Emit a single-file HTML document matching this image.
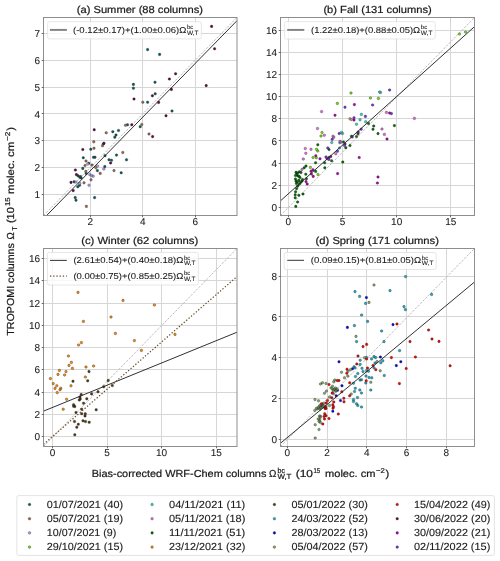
<!DOCTYPE html><html><head><meta charset="utf-8"><style>html,body{margin:0;padding:0;background:#fff;overflow:hidden;}svg{display:block;}text{text-rendering:geometricPrecision;font-family:"Liberation Sans", sans-serif;fill:#1a1a1a;stroke:#1a1a1a;stroke-width:0.22px;}text.th{stroke-width:0.08px;}text.t2{stroke-width:0.12px;}svg{will-change:transform;}</style></head><body>
<svg width="500" height="561" viewBox="0 0 500 561">
<clipPath id="clipa"><rect x="43.5" y="17.5" width="193.5" height="198.0"/></clipPath>
<path d="M90.50 17.5V215.5M142.50 17.5V215.5M195.50 17.5V215.5M43.5 194.50H237.0M43.5 167.50H237.0M43.5 140.50H237.0M43.5 113.50H237.0M43.5 87.50H237.0M43.5 60.50H237.0M43.5 33.50H237.0" stroke="#d6d6d6" stroke-width="1.0" fill="none"/>
<line x1="43.5" y1="215.5" x2="237.0" y2="17.5" stroke="#b2b2b2" stroke-width="0.9" stroke-dasharray="2.3 1.4" clip-path="url(#clipa)"/>
<g clip-path="url(#clipa)"><path d="M146.30 49.6a1.3 1.3 0 1 0 2.6 0a1.3 1.3 0 1 0 -2.6 0M158.30 54.4a1.3 1.3 0 1 0 2.6 0a1.3 1.3 0 1 0 -2.6 0M153.70 82.2a1.3 1.3 0 1 0 2.6 0a1.3 1.3 0 1 0 -2.6 0M153.90 93.8a1.3 1.3 0 1 0 2.6 0a1.3 1.3 0 1 0 -2.6 0M146.30 102.2a1.3 1.3 0 1 0 2.6 0a1.3 1.3 0 1 0 -2.6 0M170.70 111.0a1.3 1.3 0 1 0 2.6 0a1.3 1.3 0 1 0 -2.6 0M132.10 84.4a1.3 1.3 0 1 0 2.6 0a1.3 1.3 0 1 0 -2.6 0M132.10 88.2a1.3 1.3 0 1 0 2.6 0a1.3 1.3 0 1 0 -2.6 0M126.20 124.8a1.3 1.3 0 1 0 2.6 0a1.3 1.3 0 1 0 -2.6 0M138.90 126.7a1.3 1.3 0 1 0 2.6 0a1.3 1.3 0 1 0 -2.6 0M111.50 131.7a1.3 1.3 0 1 0 2.6 0a1.3 1.3 0 1 0 -2.6 0M117.20 130.5a1.3 1.3 0 1 0 2.6 0a1.3 1.3 0 1 0 -2.6 0M114.70 135.0a1.3 1.3 0 1 0 2.6 0a1.3 1.3 0 1 0 -2.6 0M113.50 137.2a1.3 1.3 0 1 0 2.6 0a1.3 1.3 0 1 0 -2.6 0M102.00 144.0a1.3 1.3 0 1 0 2.6 0a1.3 1.3 0 1 0 -2.6 0M103.70 155.7a1.3 1.3 0 1 0 2.6 0a1.3 1.3 0 1 0 -2.6 0M115.20 155.1a1.3 1.3 0 1 0 2.6 0a1.3 1.3 0 1 0 -2.6 0M92.20 157.3a1.3 1.3 0 1 0 2.6 0a1.3 1.3 0 1 0 -2.6 0M93.70 157.3a1.3 1.3 0 1 0 2.6 0a1.3 1.3 0 1 0 -2.6 0M107.70 159.8a1.3 1.3 0 1 0 2.6 0a1.3 1.3 0 1 0 -2.6 0M110.20 160.3a1.3 1.3 0 1 0 2.6 0a1.3 1.3 0 1 0 -2.6 0M125.20 159.8a1.3 1.3 0 1 0 2.6 0a1.3 1.3 0 1 0 -2.6 0M103.50 166.6a1.3 1.3 0 1 0 2.6 0a1.3 1.3 0 1 0 -2.6 0M89.50 149.2a1.3 1.3 0 1 0 2.6 0a1.3 1.3 0 1 0 -2.6 0M82.00 157.8a1.3 1.3 0 1 0 2.6 0a1.3 1.3 0 1 0 -2.6 0M87.50 163.2a1.3 1.3 0 1 0 2.6 0a1.3 1.3 0 1 0 -2.6 0M81.50 168.4a1.3 1.3 0 1 0 2.6 0a1.3 1.3 0 1 0 -2.6 0M96.10 170.6a1.3 1.3 0 1 0 2.6 0a1.3 1.3 0 1 0 -2.6 0M84.90 173.4a1.3 1.3 0 1 0 2.6 0a1.3 1.3 0 1 0 -2.6 0M76.70 175.8a1.3 1.3 0 1 0 2.6 0a1.3 1.3 0 1 0 -2.6 0M78.50 177.2a1.3 1.3 0 1 0 2.6 0a1.3 1.3 0 1 0 -2.6 0M79.90 178.0a1.3 1.3 0 1 0 2.6 0a1.3 1.3 0 1 0 -2.6 0M72.70 181.8a1.3 1.3 0 1 0 2.6 0a1.3 1.3 0 1 0 -2.6 0M78.30 185.2a1.3 1.3 0 1 0 2.6 0a1.3 1.3 0 1 0 -2.6 0M76.50 186.8a1.3 1.3 0 1 0 2.6 0a1.3 1.3 0 1 0 -2.6 0M73.90 197.6a1.3 1.3 0 1 0 2.6 0a1.3 1.3 0 1 0 -2.6 0M74.70 200.2a1.3 1.3 0 1 0 2.6 0a1.3 1.3 0 1 0 -2.6 0M93.30 197.6a1.3 1.3 0 1 0 2.6 0a1.3 1.3 0 1 0 -2.6 0M119.90 172.8a1.3 1.3 0 1 0 2.6 0a1.3 1.3 0 1 0 -2.6 0M79.20 176.5a1.3 1.3 0 1 0 2.6 0a1.3 1.3 0 1 0 -2.6 0" fill="#0b5c5c" stroke="rgba(30,30,30,0.6)" stroke-width="0.5"/><path d="M141.50 102.2a1.3 1.3 0 1 0 2.6 0a1.3 1.3 0 1 0 -2.6 0M124.20 125.2a1.3 1.3 0 1 0 2.6 0a1.3 1.3 0 1 0 -2.6 0M140.50 124.5a1.3 1.3 0 1 0 2.6 0a1.3 1.3 0 1 0 -2.6 0M104.90 132.8a1.3 1.3 0 1 0 2.6 0a1.3 1.3 0 1 0 -2.6 0M92.50 141.8a1.3 1.3 0 1 0 2.6 0a1.3 1.3 0 1 0 -2.6 0M101.20 145.7a1.3 1.3 0 1 0 2.6 0a1.3 1.3 0 1 0 -2.6 0M92.70 148.2a1.3 1.3 0 1 0 2.6 0a1.3 1.3 0 1 0 -2.6 0M121.50 152.5a1.3 1.3 0 1 0 2.6 0a1.3 1.3 0 1 0 -2.6 0M84.70 161.0a1.3 1.3 0 1 0 2.6 0a1.3 1.3 0 1 0 -2.6 0M83.70 165.5a1.3 1.3 0 1 0 2.6 0a1.3 1.3 0 1 0 -2.6 0M90.70 165.0a1.3 1.3 0 1 0 2.6 0a1.3 1.3 0 1 0 -2.6 0M94.50 167.6a1.3 1.3 0 1 0 2.6 0a1.3 1.3 0 1 0 -2.6 0M98.90 173.4a1.3 1.3 0 1 0 2.6 0a1.3 1.3 0 1 0 -2.6 0M84.50 171.4a1.3 1.3 0 1 0 2.6 0a1.3 1.3 0 1 0 -2.6 0M89.70 179.8a1.3 1.3 0 1 0 2.6 0a1.3 1.3 0 1 0 -2.6 0M82.70 182.8a1.3 1.3 0 1 0 2.6 0a1.3 1.3 0 1 0 -2.6 0M85.10 206.4a1.3 1.3 0 1 0 2.6 0a1.3 1.3 0 1 0 -2.6 0M112.70 170.6a1.3 1.3 0 1 0 2.6 0a1.3 1.3 0 1 0 -2.6 0M147.70 134.0a1.3 1.3 0 1 0 2.6 0a1.3 1.3 0 1 0 -2.6 0" fill="#a06850" stroke="rgba(30,30,30,0.6)" stroke-width="0.5"/><path d="M96.20 166.0a1.3 1.3 0 1 0 2.6 0a1.3 1.3 0 1 0 -2.6 0M86.50 164.0a1.3 1.3 0 1 0 2.6 0a1.3 1.3 0 1 0 -2.6 0M88.50 174.6a1.3 1.3 0 1 0 2.6 0a1.3 1.3 0 1 0 -2.6 0M91.90 176.2a1.3 1.3 0 1 0 2.6 0a1.3 1.3 0 1 0 -2.6 0M74.70 182.0a1.3 1.3 0 1 0 2.6 0a1.3 1.3 0 1 0 -2.6 0M78.50 183.4a1.3 1.3 0 1 0 2.6 0a1.3 1.3 0 1 0 -2.6 0M87.70 185.2a1.3 1.3 0 1 0 2.6 0a1.3 1.3 0 1 0 -2.6 0M102.50 169.0a1.3 1.3 0 1 0 2.6 0a1.3 1.3 0 1 0 -2.6 0M90.20 175.5a1.3 1.3 0 1 0 2.6 0a1.3 1.3 0 1 0 -2.6 0" fill="#a79ff2" stroke="rgba(30,30,30,0.6)" stroke-width="0.5"/><path d="M210.30 26.4a1.3 1.3 0 1 0 2.6 0a1.3 1.3 0 1 0 -2.6 0M213.30 48.8a1.3 1.3 0 1 0 2.6 0a1.3 1.3 0 1 0 -2.6 0M174.30 73.8a1.3 1.3 0 1 0 2.6 0a1.3 1.3 0 1 0 -2.6 0M168.10 79.0a1.3 1.3 0 1 0 2.6 0a1.3 1.3 0 1 0 -2.6 0M204.90 85.6a1.3 1.3 0 1 0 2.6 0a1.3 1.3 0 1 0 -2.6 0M170.10 89.4a1.3 1.3 0 1 0 2.6 0a1.3 1.3 0 1 0 -2.6 0M151.10 95.8a1.3 1.3 0 1 0 2.6 0a1.3 1.3 0 1 0 -2.6 0M157.30 102.4a1.3 1.3 0 1 0 2.6 0a1.3 1.3 0 1 0 -2.6 0M164.70 115.8a1.3 1.3 0 1 0 2.6 0a1.3 1.3 0 1 0 -2.6 0M132.70 99.0a1.3 1.3 0 1 0 2.6 0a1.3 1.3 0 1 0 -2.6 0M130.50 124.7a1.3 1.3 0 1 0 2.6 0a1.3 1.3 0 1 0 -2.6 0M92.90 129.7a1.3 1.3 0 1 0 2.6 0a1.3 1.3 0 1 0 -2.6 0M102.70 143.2a1.3 1.3 0 1 0 2.6 0a1.3 1.3 0 1 0 -2.6 0M109.30 163.0a1.3 1.3 0 1 0 2.6 0a1.3 1.3 0 1 0 -2.6 0M81.50 149.5a1.3 1.3 0 1 0 2.6 0a1.3 1.3 0 1 0 -2.6 0M74.10 170.0a1.3 1.3 0 1 0 2.6 0a1.3 1.3 0 1 0 -2.6 0M75.10 174.6a1.3 1.3 0 1 0 2.6 0a1.3 1.3 0 1 0 -2.6 0M69.70 182.4a1.3 1.3 0 1 0 2.6 0a1.3 1.3 0 1 0 -2.6 0M71.90 190.6a1.3 1.3 0 1 0 2.6 0a1.3 1.3 0 1 0 -2.6 0M151.30 136.6a1.3 1.3 0 1 0 2.6 0a1.3 1.3 0 1 0 -2.6 0" fill="#5e0840" stroke="rgba(30,30,30,0.6)" stroke-width="0.5"/></g>
<line x1="46.60" y1="215.50" x2="237.00" y2="20.68" stroke="#262626" stroke-width="0.95"/>
<rect x="43.5" y="17.5" width="193.5" height="198.0" fill="none" stroke="#8e8e8e" stroke-width="1.0"/>
<path d="M90.50 215.5v1.8M142.50 215.5v1.8M195.50 215.5v1.8M43.5 194.50h-1.8M43.5 167.50h-1.8M43.5 140.50h-1.8M43.5 113.50h-1.8M43.5 87.50h-1.8M43.5 60.50h-1.8M43.5 33.50h-1.8" stroke="#444" stroke-width="0.8" fill="none"/>
<text x="90.30" y="225.30" font-size="10.0" class="th" text-anchor="middle">2</text>
<text x="142.75" y="225.30" font-size="10.0" class="th" text-anchor="middle">4</text>
<text x="195.20" y="225.30" font-size="10.0" class="th" text-anchor="middle">6</text>
<text x="40.10" y="198.00" font-size="10.0" class="th" text-anchor="end">1</text>
<text x="40.10" y="171.17" font-size="10.0" class="th" text-anchor="end">2</text>
<text x="40.10" y="144.33" font-size="10.0" class="th" text-anchor="end">3</text>
<text x="40.10" y="117.50" font-size="10.0" class="th" text-anchor="end">4</text>
<text x="40.10" y="90.67" font-size="10.0" class="th" text-anchor="end">5</text>
<text x="40.10" y="63.83" font-size="10.0" class="th" text-anchor="end">6</text>
<text x="40.10" y="37.00" font-size="10.0" class="th" text-anchor="end">7</text>
<text x="76.8" y="13.00" font-size="10.2" textLength="126.2" lengthAdjust="spacingAndGlyphs">(a) Summer (88 columns)</text>
<clipPath id="clipb"><rect x="280.5" y="17.5" width="194.0" height="198.0"/></clipPath>
<path d="M288.50 17.5V215.5M342.50 17.5V215.5M396.50 17.5V215.5M450.50 17.5V215.5M280.5 207.50H474.5M280.5 185.50H474.5M280.5 163.50H474.5M280.5 140.50H474.5M280.5 118.50H474.5M280.5 96.50H474.5M280.5 74.50H474.5M280.5 52.50H474.5M280.5 30.50H474.5" stroke="#d6d6d6" stroke-width="1.0" fill="none"/>
<line x1="280.5" y1="215.5" x2="474.5" y2="17.5" stroke="#b2b2b2" stroke-width="0.9" stroke-dasharray="2.3 1.4" clip-path="url(#clipb)"/>
<g clip-path="url(#clipb)"><path d="M458.10 34.0a1.3 1.3 0 1 0 2.6 0a1.3 1.3 0 1 0 -2.6 0M464.30 32.0a1.3 1.3 0 1 0 2.6 0a1.3 1.3 0 1 0 -2.6 0M377.10 98.4a1.3 1.3 0 1 0 2.6 0a1.3 1.3 0 1 0 -2.6 0M349.70 93.0a1.3 1.3 0 1 0 2.6 0a1.3 1.3 0 1 0 -2.6 0M369.10 98.0a1.3 1.3 0 1 0 2.6 0a1.3 1.3 0 1 0 -2.6 0M336.10 103.4a1.3 1.3 0 1 0 2.6 0a1.3 1.3 0 1 0 -2.6 0M348.70 118.8a1.3 1.3 0 1 0 2.6 0a1.3 1.3 0 1 0 -2.6 0M320.70 132.5a1.3 1.3 0 1 0 2.6 0a1.3 1.3 0 1 0 -2.6 0M319.70 136.0a1.3 1.3 0 1 0 2.6 0a1.3 1.3 0 1 0 -2.6 0M315.20 149.3a1.3 1.3 0 1 0 2.6 0a1.3 1.3 0 1 0 -2.6 0M316.50 151.0a1.3 1.3 0 1 0 2.6 0a1.3 1.3 0 1 0 -2.6 0M311.70 157.5a1.3 1.3 0 1 0 2.6 0a1.3 1.3 0 1 0 -2.6 0M315.00 157.7a1.3 1.3 0 1 0 2.6 0a1.3 1.3 0 1 0 -2.6 0M309.10 167.4a1.3 1.3 0 1 0 2.6 0a1.3 1.3 0 1 0 -2.6 0M316.70 174.6a1.3 1.3 0 1 0 2.6 0a1.3 1.3 0 1 0 -2.6 0" fill="#72dd08" stroke="rgba(30,30,30,0.6)" stroke-width="0.5"/><path d="M378.30 92.0a1.3 1.3 0 1 0 2.6 0a1.3 1.3 0 1 0 -2.6 0M360.10 114.4a1.3 1.3 0 1 0 2.6 0a1.3 1.3 0 1 0 -2.6 0M358.70 119.7a1.3 1.3 0 1 0 2.6 0a1.3 1.3 0 1 0 -2.6 0M364.40 121.7a1.3 1.3 0 1 0 2.6 0a1.3 1.3 0 1 0 -2.6 0M355.20 124.2a1.3 1.3 0 1 0 2.6 0a1.3 1.3 0 1 0 -2.6 0M340.20 132.5a1.3 1.3 0 1 0 2.6 0a1.3 1.3 0 1 0 -2.6 0M330.50 142.5a1.3 1.3 0 1 0 2.6 0a1.3 1.3 0 1 0 -2.6 0M338.50 142.7a1.3 1.3 0 1 0 2.6 0a1.3 1.3 0 1 0 -2.6 0M338.20 148.0a1.3 1.3 0 1 0 2.6 0a1.3 1.3 0 1 0 -2.6 0M341.20 133.5a1.3 1.3 0 1 0 2.6 0a1.3 1.3 0 1 0 -2.6 0M379.20 92.5a1.3 1.3 0 1 0 2.6 0a1.3 1.3 0 1 0 -2.6 0" fill="#2ad6c2" stroke="rgba(30,30,30,0.6)" stroke-width="0.5"/><path d="M385.10 112.4a1.3 1.3 0 1 0 2.6 0a1.3 1.3 0 1 0 -2.6 0M320.30 111.6a1.3 1.3 0 1 0 2.6 0a1.3 1.3 0 1 0 -2.6 0M413.10 118.4a1.3 1.3 0 1 0 2.6 0a1.3 1.3 0 1 0 -2.6 0M380.70 129.0a1.3 1.3 0 1 0 2.6 0a1.3 1.3 0 1 0 -2.6 0M383.10 134.4a1.3 1.3 0 1 0 2.6 0a1.3 1.3 0 1 0 -2.6 0M350.00 119.5a1.3 1.3 0 1 0 2.6 0a1.3 1.3 0 1 0 -2.6 0M331.70 136.2a1.3 1.3 0 1 0 2.6 0a1.3 1.3 0 1 0 -2.6 0M338.70 141.3a1.3 1.3 0 1 0 2.6 0a1.3 1.3 0 1 0 -2.6 0M334.50 153.7a1.3 1.3 0 1 0 2.6 0a1.3 1.3 0 1 0 -2.6 0M316.20 128.5a1.3 1.3 0 1 0 2.6 0a1.3 1.3 0 1 0 -2.6 0M323.00 135.2a1.3 1.3 0 1 0 2.6 0a1.3 1.3 0 1 0 -2.6 0M304.00 148.5a1.3 1.3 0 1 0 2.6 0a1.3 1.3 0 1 0 -2.6 0M309.70 149.3a1.3 1.3 0 1 0 2.6 0a1.3 1.3 0 1 0 -2.6 0M304.50 153.3a1.3 1.3 0 1 0 2.6 0a1.3 1.3 0 1 0 -2.6 0M302.00 159.0a1.3 1.3 0 1 0 2.6 0a1.3 1.3 0 1 0 -2.6 0M300.70 169.4a1.3 1.3 0 1 0 2.6 0a1.3 1.3 0 1 0 -2.6 0M332.50 137.2a1.3 1.3 0 1 0 2.6 0a1.3 1.3 0 1 0 -2.6 0M339.50 142.2a1.3 1.3 0 1 0 2.6 0a1.3 1.3 0 1 0 -2.6 0" fill="#df6fd6" stroke="rgba(30,30,30,0.6)" stroke-width="0.5"/><path d="M393.10 125.6a1.3 1.3 0 1 0 2.6 0a1.3 1.3 0 1 0 -2.6 0M376.70 133.6a1.3 1.3 0 1 0 2.6 0a1.3 1.3 0 1 0 -2.6 0M367.20 123.5a1.3 1.3 0 1 0 2.6 0a1.3 1.3 0 1 0 -2.6 0M372.40 126.0a1.3 1.3 0 1 0 2.6 0a1.3 1.3 0 1 0 -2.6 0M371.70 129.2a1.3 1.3 0 1 0 2.6 0a1.3 1.3 0 1 0 -2.6 0M356.70 133.8a1.3 1.3 0 1 0 2.6 0a1.3 1.3 0 1 0 -2.6 0M350.20 136.2a1.3 1.3 0 1 0 2.6 0a1.3 1.3 0 1 0 -2.6 0M355.20 136.5a1.3 1.3 0 1 0 2.6 0a1.3 1.3 0 1 0 -2.6 0M342.20 142.0a1.3 1.3 0 1 0 2.6 0a1.3 1.3 0 1 0 -2.6 0M348.70 145.5a1.3 1.3 0 1 0 2.6 0a1.3 1.3 0 1 0 -2.6 0M344.50 147.7a1.3 1.3 0 1 0 2.6 0a1.3 1.3 0 1 0 -2.6 0M316.50 144.8a1.3 1.3 0 1 0 2.6 0a1.3 1.3 0 1 0 -2.6 0M327.70 149.5a1.3 1.3 0 1 0 2.6 0a1.3 1.3 0 1 0 -2.6 0M314.30 162.8a1.3 1.3 0 1 0 2.6 0a1.3 1.3 0 1 0 -2.6 0M323.30 162.8a1.3 1.3 0 1 0 2.6 0a1.3 1.3 0 1 0 -2.6 0M304.70 166.0a1.3 1.3 0 1 0 2.6 0a1.3 1.3 0 1 0 -2.6 0M302.90 167.8a1.3 1.3 0 1 0 2.6 0a1.3 1.3 0 1 0 -2.6 0M323.50 167.8a1.3 1.3 0 1 0 2.6 0a1.3 1.3 0 1 0 -2.6 0M298.10 171.8a1.3 1.3 0 1 0 2.6 0a1.3 1.3 0 1 0 -2.6 0M294.70 172.4a1.3 1.3 0 1 0 2.6 0a1.3 1.3 0 1 0 -2.6 0M295.70 174.2a1.3 1.3 0 1 0 2.6 0a1.3 1.3 0 1 0 -2.6 0M296.70 176.0a1.3 1.3 0 1 0 2.6 0a1.3 1.3 0 1 0 -2.6 0M297.70 176.2a1.3 1.3 0 1 0 2.6 0a1.3 1.3 0 1 0 -2.6 0M314.30 171.4a1.3 1.3 0 1 0 2.6 0a1.3 1.3 0 1 0 -2.6 0M304.50 174.2a1.3 1.3 0 1 0 2.6 0a1.3 1.3 0 1 0 -2.6 0M294.70 181.0a1.3 1.3 0 1 0 2.6 0a1.3 1.3 0 1 0 -2.6 0M297.50 180.4a1.3 1.3 0 1 0 2.6 0a1.3 1.3 0 1 0 -2.6 0M300.70 181.0a1.3 1.3 0 1 0 2.6 0a1.3 1.3 0 1 0 -2.6 0M305.10 178.8a1.3 1.3 0 1 0 2.6 0a1.3 1.3 0 1 0 -2.6 0M295.10 183.4a1.3 1.3 0 1 0 2.6 0a1.3 1.3 0 1 0 -2.6 0M299.50 182.2a1.3 1.3 0 1 0 2.6 0a1.3 1.3 0 1 0 -2.6 0M296.50 186.0a1.3 1.3 0 1 0 2.6 0a1.3 1.3 0 1 0 -2.6 0M295.30 188.6a1.3 1.3 0 1 0 2.6 0a1.3 1.3 0 1 0 -2.6 0M294.30 191.8a1.3 1.3 0 1 0 2.6 0a1.3 1.3 0 1 0 -2.6 0M293.90 194.8a1.3 1.3 0 1 0 2.6 0a1.3 1.3 0 1 0 -2.6 0M297.50 195.2a1.3 1.3 0 1 0 2.6 0a1.3 1.3 0 1 0 -2.6 0M301.70 194.0a1.3 1.3 0 1 0 2.6 0a1.3 1.3 0 1 0 -2.6 0M293.90 197.8a1.3 1.3 0 1 0 2.6 0a1.3 1.3 0 1 0 -2.6 0M296.30 202.0a1.3 1.3 0 1 0 2.6 0a1.3 1.3 0 1 0 -2.6 0M294.50 206.4a1.3 1.3 0 1 0 2.6 0a1.3 1.3 0 1 0 -2.6 0M341.50 162.0a1.3 1.3 0 1 0 2.6 0a1.3 1.3 0 1 0 -2.6 0M330.30 160.8a1.3 1.3 0 1 0 2.6 0a1.3 1.3 0 1 0 -2.6 0M327.70 157.5a1.3 1.3 0 1 0 2.6 0a1.3 1.3 0 1 0 -2.6 0M296.20 173.0a1.3 1.3 0 1 0 2.6 0a1.3 1.3 0 1 0 -2.6 0M298.70 177.5a1.3 1.3 0 1 0 2.6 0a1.3 1.3 0 1 0 -2.6 0M294.20 175.5a1.3 1.3 0 1 0 2.6 0a1.3 1.3 0 1 0 -2.6 0M299.70 172.5a1.3 1.3 0 1 0 2.6 0a1.3 1.3 0 1 0 -2.6 0M295.90 182.2a1.3 1.3 0 1 0 2.6 0a1.3 1.3 0 1 0 -2.6 0M298.20 184.0a1.3 1.3 0 1 0 2.6 0a1.3 1.3 0 1 0 -2.6 0M294.20 179.0a1.3 1.3 0 1 0 2.6 0a1.3 1.3 0 1 0 -2.6 0M301.20 179.5a1.3 1.3 0 1 0 2.6 0a1.3 1.3 0 1 0 -2.6 0" fill="#046c04" stroke="rgba(30,30,30,0.6)" stroke-width="0.5"/><path d="M388.30 113.0a1.3 1.3 0 1 0 2.6 0a1.3 1.3 0 1 0 -2.6 0M353.10 104.6a1.3 1.3 0 1 0 2.6 0a1.3 1.3 0 1 0 -2.6 0M333.70 115.2a1.3 1.3 0 1 0 2.6 0a1.3 1.3 0 1 0 -2.6 0M352.70 120.0a1.3 1.3 0 1 0 2.6 0a1.3 1.3 0 1 0 -2.6 0M356.90 132.0a1.3 1.3 0 1 0 2.6 0a1.3 1.3 0 1 0 -2.6 0M343.70 144.0a1.3 1.3 0 1 0 2.6 0a1.3 1.3 0 1 0 -2.6 0M329.50 156.5a1.3 1.3 0 1 0 2.6 0a1.3 1.3 0 1 0 -2.6 0M357.90 157.5a1.3 1.3 0 1 0 2.6 0a1.3 1.3 0 1 0 -2.6 0M385.70 139.0a1.3 1.3 0 1 0 2.6 0a1.3 1.3 0 1 0 -2.6 0M376.70 177.0a1.3 1.3 0 1 0 2.6 0a1.3 1.3 0 1 0 -2.6 0M376.10 183.0a1.3 1.3 0 1 0 2.6 0a1.3 1.3 0 1 0 -2.6 0M314.50 155.8a1.3 1.3 0 1 0 2.6 0a1.3 1.3 0 1 0 -2.6 0M318.70 158.8a1.3 1.3 0 1 0 2.6 0a1.3 1.3 0 1 0 -2.6 0M325.70 158.5a1.3 1.3 0 1 0 2.6 0a1.3 1.3 0 1 0 -2.6 0M309.70 171.2a1.3 1.3 0 1 0 2.6 0a1.3 1.3 0 1 0 -2.6 0M311.70 169.8a1.3 1.3 0 1 0 2.6 0a1.3 1.3 0 1 0 -2.6 0M310.10 174.0a1.3 1.3 0 1 0 2.6 0a1.3 1.3 0 1 0 -2.6 0M311.90 176.4a1.3 1.3 0 1 0 2.6 0a1.3 1.3 0 1 0 -2.6 0M304.70 181.6a1.3 1.3 0 1 0 2.6 0a1.3 1.3 0 1 0 -2.6 0M305.90 184.0a1.3 1.3 0 1 0 2.6 0a1.3 1.3 0 1 0 -2.6 0M336.30 173.6a1.3 1.3 0 1 0 2.6 0a1.3 1.3 0 1 0 -2.6 0" fill="#b004ae" stroke="rgba(30,30,30,0.6)" stroke-width="0.5"/><path d="M388.30 90.0a1.3 1.3 0 1 0 2.6 0a1.3 1.3 0 1 0 -2.6 0M390.10 113.6a1.3 1.3 0 1 0 2.6 0a1.3 1.3 0 1 0 -2.6 0M371.30 105.0a1.3 1.3 0 1 0 2.6 0a1.3 1.3 0 1 0 -2.6 0M343.70 107.2a1.3 1.3 0 1 0 2.6 0a1.3 1.3 0 1 0 -2.6 0M364.10 116.4a1.3 1.3 0 1 0 2.6 0a1.3 1.3 0 1 0 -2.6 0M352.70 117.8a1.3 1.3 0 1 0 2.6 0a1.3 1.3 0 1 0 -2.6 0M359.90 129.2a1.3 1.3 0 1 0 2.6 0a1.3 1.3 0 1 0 -2.6 0M337.90 133.5a1.3 1.3 0 1 0 2.6 0a1.3 1.3 0 1 0 -2.6 0M350.90 137.0a1.3 1.3 0 1 0 2.6 0a1.3 1.3 0 1 0 -2.6 0M330.90 139.2a1.3 1.3 0 1 0 2.6 0a1.3 1.3 0 1 0 -2.6 0M343.20 145.5a1.3 1.3 0 1 0 2.6 0a1.3 1.3 0 1 0 -2.6 0M336.20 151.2a1.3 1.3 0 1 0 2.6 0a1.3 1.3 0 1 0 -2.6 0M326.50 148.0a1.3 1.3 0 1 0 2.6 0a1.3 1.3 0 1 0 -2.6 0M324.70 157.0a1.3 1.3 0 1 0 2.6 0a1.3 1.3 0 1 0 -2.6 0M327.50 159.4a1.3 1.3 0 1 0 2.6 0a1.3 1.3 0 1 0 -2.6 0" fill="#7232dc" stroke="rgba(30,30,30,0.6)" stroke-width="0.5"/></g>
<line x1="280.50" y1="200.82" x2="474.50" y2="26.67" stroke="#262626" stroke-width="0.95"/>
<rect x="280.5" y="17.5" width="194.0" height="198.0" fill="none" stroke="#8e8e8e" stroke-width="1.0"/>
<path d="M288.50 215.5v1.8M342.50 215.5v1.8M396.50 215.5v1.8M450.50 215.5v1.8M280.5 207.50h-1.8M280.5 185.50h-1.8M280.5 163.50h-1.8M280.5 140.50h-1.8M280.5 118.50h-1.8M280.5 96.50h-1.8M280.5 74.50h-1.8M280.5 52.50h-1.8M280.5 30.50h-1.8" stroke="#444" stroke-width="0.8" fill="none"/>
<text x="288.40" y="225.30" font-size="10.0" class="th" text-anchor="middle">0</text>
<text x="342.53" y="225.30" font-size="10.0" class="th" text-anchor="middle">5</text>
<text x="396.67" y="225.30" font-size="10.0" class="th" text-anchor="middle">10</text>
<text x="450.80" y="225.30" font-size="10.0" class="th" text-anchor="middle">15</text>
<text x="277.10" y="210.80" font-size="10.0" class="th" text-anchor="end">0</text>
<text x="277.10" y="188.71" font-size="10.0" class="th" text-anchor="end">2</text>
<text x="277.10" y="166.62" font-size="10.0" class="th" text-anchor="end">4</text>
<text x="277.10" y="144.54" font-size="10.0" class="th" text-anchor="end">6</text>
<text x="277.10" y="122.45" font-size="10.0" class="th" text-anchor="end">8</text>
<text x="277.10" y="100.36" font-size="10.0" class="th" text-anchor="end">10</text>
<text x="277.10" y="78.28" font-size="10.0" class="th" text-anchor="end">12</text>
<text x="277.10" y="56.19" font-size="10.0" class="th" text-anchor="end">14</text>
<text x="277.10" y="34.10" font-size="10.0" class="th" text-anchor="end">16</text>
<text x="323.4" y="13.00" font-size="10.2" textLength="108.4" lengthAdjust="spacingAndGlyphs">(b) Fall (131 columns)</text>
<clipPath id="clipc"><rect x="43.5" y="248.5" width="193.5" height="198.0"/></clipPath>
<path d="M52.50 248.5V446.5M107.50 248.5V446.5M161.50 248.5V446.5M216.50 248.5V446.5M43.5 436.50H237.0M43.5 414.50H237.0M43.5 392.50H237.0M43.5 369.50H237.0M43.5 347.50H237.0M43.5 325.50H237.0M43.5 303.50H237.0M43.5 280.50H237.0M43.5 258.50H237.0" stroke="#d6d6d6" stroke-width="1.0" fill="none"/>
<line x1="43.5" y1="446.5" x2="237.0" y2="248.5" stroke="#b2b2b2" stroke-width="0.9" stroke-dasharray="2.3 1.4" clip-path="url(#clipc)"/>
<g clip-path="url(#clipc)"><path d="M76.70 292.4a1.3 1.3 0 1 0 2.6 0a1.3 1.3 0 1 0 -2.6 0M121.70 300.4a1.3 1.3 0 1 0 2.6 0a1.3 1.3 0 1 0 -2.6 0M109.70 317.0a1.3 1.3 0 1 0 2.6 0a1.3 1.3 0 1 0 -2.6 0M82.10 321.4a1.3 1.3 0 1 0 2.6 0a1.3 1.3 0 1 0 -2.6 0M114.10 333.4a1.3 1.3 0 1 0 2.6 0a1.3 1.3 0 1 0 -2.6 0M133.10 340.6a1.3 1.3 0 1 0 2.6 0a1.3 1.3 0 1 0 -2.6 0M77.30 345.0a1.3 1.3 0 1 0 2.6 0a1.3 1.3 0 1 0 -2.6 0M80.10 342.6a1.3 1.3 0 1 0 2.6 0a1.3 1.3 0 1 0 -2.6 0M140.10 350.4a1.3 1.3 0 1 0 2.6 0a1.3 1.3 0 1 0 -2.6 0M67.10 356.0a1.3 1.3 0 1 0 2.6 0a1.3 1.3 0 1 0 -2.6 0M70.10 362.4a1.3 1.3 0 1 0 2.6 0a1.3 1.3 0 1 0 -2.6 0M67.70 365.4a1.3 1.3 0 1 0 2.6 0a1.3 1.3 0 1 0 -2.6 0M71.10 368.4a1.3 1.3 0 1 0 2.6 0a1.3 1.3 0 1 0 -2.6 0M84.70 367.0a1.3 1.3 0 1 0 2.6 0a1.3 1.3 0 1 0 -2.6 0M92.30 366.0a1.3 1.3 0 1 0 2.6 0a1.3 1.3 0 1 0 -2.6 0M58.10 370.4a1.3 1.3 0 1 0 2.6 0a1.3 1.3 0 1 0 -2.6 0M64.70 371.6a1.3 1.3 0 1 0 2.6 0a1.3 1.3 0 1 0 -2.6 0M56.70 374.4a1.3 1.3 0 1 0 2.6 0a1.3 1.3 0 1 0 -2.6 0M63.30 375.0a1.3 1.3 0 1 0 2.6 0a1.3 1.3 0 1 0 -2.6 0M84.10 377.0a1.3 1.3 0 1 0 2.6 0a1.3 1.3 0 1 0 -2.6 0M49.10 378.6a1.3 1.3 0 1 0 2.6 0a1.3 1.3 0 1 0 -2.6 0M153.10 305.0a1.3 1.3 0 1 0 2.6 0a1.3 1.3 0 1 0 -2.6 0M173.70 334.4a1.3 1.3 0 1 0 2.6 0a1.3 1.3 0 1 0 -2.6 0M51.90 383.6a1.3 1.3 0 1 0 2.6 0a1.3 1.3 0 1 0 -2.6 0M55.50 385.8a1.3 1.3 0 1 0 2.6 0a1.3 1.3 0 1 0 -2.6 0M53.70 388.4a1.3 1.3 0 1 0 2.6 0a1.3 1.3 0 1 0 -2.6 0M59.50 388.2a1.3 1.3 0 1 0 2.6 0a1.3 1.3 0 1 0 -2.6 0M58.70 389.8a1.3 1.3 0 1 0 2.6 0a1.3 1.3 0 1 0 -2.6 0M55.90 392.6a1.3 1.3 0 1 0 2.6 0a1.3 1.3 0 1 0 -2.6 0M69.70 385.8a1.3 1.3 0 1 0 2.6 0a1.3 1.3 0 1 0 -2.6 0M65.30 399.2a1.3 1.3 0 1 0 2.6 0a1.3 1.3 0 1 0 -2.6 0M61.90 409.2a1.3 1.3 0 1 0 2.6 0a1.3 1.3 0 1 0 -2.6 0" fill="#ec8c12" stroke="rgba(30,30,30,0.6)" stroke-width="0.5"/><path d="M87.70 371.6a1.3 1.3 0 1 0 2.6 0a1.3 1.3 0 1 0 -2.6 0M71.70 381.2a1.3 1.3 0 1 0 2.6 0a1.3 1.3 0 1 0 -2.6 0M86.40 380.8a1.3 1.3 0 1 0 2.6 0a1.3 1.3 0 1 0 -2.6 0M79.90 394.5a1.3 1.3 0 1 0 2.6 0a1.3 1.3 0 1 0 -2.6 0M90.30 393.9a1.3 1.3 0 1 0 2.6 0a1.3 1.3 0 1 0 -2.6 0M96.70 391.8a1.3 1.3 0 1 0 2.6 0a1.3 1.3 0 1 0 -2.6 0M78.60 397.0a1.3 1.3 0 1 0 2.6 0a1.3 1.3 0 1 0 -2.6 0M78.00 400.0a1.3 1.3 0 1 0 2.6 0a1.3 1.3 0 1 0 -2.6 0M85.50 398.8a1.3 1.3 0 1 0 2.6 0a1.3 1.3 0 1 0 -2.6 0M82.30 403.2a1.3 1.3 0 1 0 2.6 0a1.3 1.3 0 1 0 -2.6 0M72.30 404.7a1.3 1.3 0 1 0 2.6 0a1.3 1.3 0 1 0 -2.6 0M72.30 406.2a1.3 1.3 0 1 0 2.6 0a1.3 1.3 0 1 0 -2.6 0M80.40 409.2a1.3 1.3 0 1 0 2.6 0a1.3 1.3 0 1 0 -2.6 0M94.90 409.8a1.3 1.3 0 1 0 2.6 0a1.3 1.3 0 1 0 -2.6 0M74.70 412.5a1.3 1.3 0 1 0 2.6 0a1.3 1.3 0 1 0 -2.6 0M80.40 413.7a1.3 1.3 0 1 0 2.6 0a1.3 1.3 0 1 0 -2.6 0M84.00 413.8a1.3 1.3 0 1 0 2.6 0a1.3 1.3 0 1 0 -2.6 0M83.70 416.0a1.3 1.3 0 1 0 2.6 0a1.3 1.3 0 1 0 -2.6 0M73.20 421.5a1.3 1.3 0 1 0 2.6 0a1.3 1.3 0 1 0 -2.6 0M81.70 420.8a1.3 1.3 0 1 0 2.6 0a1.3 1.3 0 1 0 -2.6 0M84.20 421.5a1.3 1.3 0 1 0 2.6 0a1.3 1.3 0 1 0 -2.6 0M87.90 422.2a1.3 1.3 0 1 0 2.6 0a1.3 1.3 0 1 0 -2.6 0M77.00 424.3a1.3 1.3 0 1 0 2.6 0a1.3 1.3 0 1 0 -2.6 0M75.50 427.2a1.3 1.3 0 1 0 2.6 0a1.3 1.3 0 1 0 -2.6 0M73.50 434.8a1.3 1.3 0 1 0 2.6 0a1.3 1.3 0 1 0 -2.6 0M106.90 380.5a1.3 1.3 0 1 0 2.6 0a1.3 1.3 0 1 0 -2.6 0M111.00 385.5a1.3 1.3 0 1 0 2.6 0a1.3 1.3 0 1 0 -2.6 0M102.40 386.8a1.3 1.3 0 1 0 2.6 0a1.3 1.3 0 1 0 -2.6 0M73.50 406.5a1.3 1.3 0 1 0 2.6 0a1.3 1.3 0 1 0 -2.6 0M78.90 399.0a1.3 1.3 0 1 0 2.6 0a1.3 1.3 0 1 0 -2.6 0" fill="#523814" stroke="rgba(30,30,30,0.6)" stroke-width="0.5"/></g>
<line x1="43.50" y1="411.13" x2="237.00" y2="332.23" stroke="#262626" stroke-width="0.95"/><line x1="43.50" y1="444.30" x2="237.00" y2="276.63" stroke="#6a4a28" stroke-width="1.25" stroke-dasharray="1.3 1.9"/>
<rect x="43.5" y="248.5" width="193.5" height="198.0" fill="none" stroke="#8e8e8e" stroke-width="1.0"/>
<path d="M52.50 446.5v1.8M107.50 446.5v1.8M161.50 446.5v1.8M216.50 446.5v1.8M43.5 436.50h-1.8M43.5 414.50h-1.8M43.5 392.50h-1.8M43.5 369.50h-1.8M43.5 347.50h-1.8M43.5 325.50h-1.8M43.5 303.50h-1.8M43.5 280.50h-1.8M43.5 258.50h-1.8" stroke="#444" stroke-width="0.8" fill="none"/>
<text x="52.50" y="456.30" font-size="10.0" class="th" text-anchor="middle">0</text>
<text x="107.07" y="456.30" font-size="10.0" class="th" text-anchor="middle">5</text>
<text x="161.63" y="456.30" font-size="10.0" class="th" text-anchor="middle">10</text>
<text x="216.20" y="456.30" font-size="10.0" class="th" text-anchor="middle">15</text>
<text x="40.10" y="440.10" font-size="10.0" class="th" text-anchor="end">0</text>
<text x="40.10" y="417.85" font-size="10.0" class="th" text-anchor="end">2</text>
<text x="40.10" y="395.60" font-size="10.0" class="th" text-anchor="end">4</text>
<text x="40.10" y="373.35" font-size="10.0" class="th" text-anchor="end">6</text>
<text x="40.10" y="351.10" font-size="10.0" class="th" text-anchor="end">8</text>
<text x="40.10" y="328.85" font-size="10.0" class="th" text-anchor="end">10</text>
<text x="40.10" y="306.60" font-size="10.0" class="th" text-anchor="end">12</text>
<text x="40.10" y="284.35" font-size="10.0" class="th" text-anchor="end">14</text>
<text x="40.10" y="262.10" font-size="10.0" class="th" text-anchor="end">16</text>
<text x="81.2" y="244.00" font-size="10.2" textLength="117.0" lengthAdjust="spacingAndGlyphs">(c) Winter (62 columns)</text>
<clipPath id="clipd"><rect x="280.5" y="248.5" width="194.0" height="198.0"/></clipPath>
<path d="M287.50 248.5V446.5M327.50 248.5V446.5M366.50 248.5V446.5M406.50 248.5V446.5M446.50 248.5V446.5M280.5 439.50H474.5M280.5 398.50H474.5M280.5 357.50H474.5M280.5 316.50H474.5M280.5 276.50H474.5" stroke="#d6d6d6" stroke-width="1.0" fill="none"/>
<line x1="280.5" y1="446.5" x2="474.5" y2="248.5" stroke="#b2b2b2" stroke-width="0.9" stroke-dasharray="2.3 1.4" clip-path="url(#clipd)"/>
<g clip-path="url(#clipd)"><path d="M404.30 276.6a1.3 1.3 0 1 0 2.6 0a1.3 1.3 0 1 0 -2.6 0M388.70 290.6a1.3 1.3 0 1 0 2.6 0a1.3 1.3 0 1 0 -2.6 0M430.30 294.4a1.3 1.3 0 1 0 2.6 0a1.3 1.3 0 1 0 -2.6 0M402.70 306.6a1.3 1.3 0 1 0 2.6 0a1.3 1.3 0 1 0 -2.6 0M404.10 309.6a1.3 1.3 0 1 0 2.6 0a1.3 1.3 0 1 0 -2.6 0M380.30 331.0a1.3 1.3 0 1 0 2.6 0a1.3 1.3 0 1 0 -2.6 0M382.70 341.6a1.3 1.3 0 1 0 2.6 0a1.3 1.3 0 1 0 -2.6 0M398.30 350.6a1.3 1.3 0 1 0 2.6 0a1.3 1.3 0 1 0 -2.6 0M374.30 357.6a1.3 1.3 0 1 0 2.6 0a1.3 1.3 0 1 0 -2.6 0M353.70 291.6a1.3 1.3 0 1 0 2.6 0a1.3 1.3 0 1 0 -2.6 0M358.30 296.4a1.3 1.3 0 1 0 2.6 0a1.3 1.3 0 1 0 -2.6 0M364.30 303.4a1.3 1.3 0 1 0 2.6 0a1.3 1.3 0 1 0 -2.6 0M360.30 315.0a1.3 1.3 0 1 0 2.6 0a1.3 1.3 0 1 0 -2.6 0M366.30 321.4a1.3 1.3 0 1 0 2.6 0a1.3 1.3 0 1 0 -2.6 0M353.10 325.6a1.3 1.3 0 1 0 2.6 0a1.3 1.3 0 1 0 -2.6 0M355.30 341.6a1.3 1.3 0 1 0 2.6 0a1.3 1.3 0 1 0 -2.6 0M365.10 357.4a1.3 1.3 0 1 0 2.6 0a1.3 1.3 0 1 0 -2.6 0M372.70 356.6a1.3 1.3 0 1 0 2.6 0a1.3 1.3 0 1 0 -2.6 0M370.30 359.0a1.3 1.3 0 1 0 2.6 0a1.3 1.3 0 1 0 -2.6 0M358.90 360.2a1.3 1.3 0 1 0 2.6 0a1.3 1.3 0 1 0 -2.6 0M358.70 364.5a1.3 1.3 0 1 0 2.6 0a1.3 1.3 0 1 0 -2.6 0M352.70 366.8a1.3 1.3 0 1 0 2.6 0a1.3 1.3 0 1 0 -2.6 0M353.70 367.8a1.3 1.3 0 1 0 2.6 0a1.3 1.3 0 1 0 -2.6 0M360.70 368.3a1.3 1.3 0 1 0 2.6 0a1.3 1.3 0 1 0 -2.6 0M361.70 371.5a1.3 1.3 0 1 0 2.6 0a1.3 1.3 0 1 0 -2.6 0M365.20 370.5a1.3 1.3 0 1 0 2.6 0a1.3 1.3 0 1 0 -2.6 0M367.20 371.2a1.3 1.3 0 1 0 2.6 0a1.3 1.3 0 1 0 -2.6 0M356.50 373.5a1.3 1.3 0 1 0 2.6 0a1.3 1.3 0 1 0 -2.6 0M354.20 376.5a1.3 1.3 0 1 0 2.6 0a1.3 1.3 0 1 0 -2.6 0M364.70 376.0a1.3 1.3 0 1 0 2.6 0a1.3 1.3 0 1 0 -2.6 0M367.70 377.5a1.3 1.3 0 1 0 2.6 0a1.3 1.3 0 1 0 -2.6 0M370.50 377.8a1.3 1.3 0 1 0 2.6 0a1.3 1.3 0 1 0 -2.6 0M358.70 380.0a1.3 1.3 0 1 0 2.6 0a1.3 1.3 0 1 0 -2.6 0M360.20 379.8a1.3 1.3 0 1 0 2.6 0a1.3 1.3 0 1 0 -2.6 0M364.50 383.0a1.3 1.3 0 1 0 2.6 0a1.3 1.3 0 1 0 -2.6 0M373.70 363.0a1.3 1.3 0 1 0 2.6 0a1.3 1.3 0 1 0 -2.6 0M372.70 367.8a1.3 1.3 0 1 0 2.6 0a1.3 1.3 0 1 0 -2.6 0M379.50 362.8a1.3 1.3 0 1 0 2.6 0a1.3 1.3 0 1 0 -2.6 0M381.50 360.8a1.3 1.3 0 1 0 2.6 0a1.3 1.3 0 1 0 -2.6 0M383.00 375.5a1.3 1.3 0 1 0 2.6 0a1.3 1.3 0 1 0 -2.6 0M352.20 383.2a1.3 1.3 0 1 0 2.6 0a1.3 1.3 0 1 0 -2.6 0M354.00 388.3a1.3 1.3 0 1 0 2.6 0a1.3 1.3 0 1 0 -2.6 0M353.20 391.5a1.3 1.3 0 1 0 2.6 0a1.3 1.3 0 1 0 -2.6 0M358.50 390.0a1.3 1.3 0 1 0 2.6 0a1.3 1.3 0 1 0 -2.6 0M360.20 393.0a1.3 1.3 0 1 0 2.6 0a1.3 1.3 0 1 0 -2.6 0M369.50 390.0a1.3 1.3 0 1 0 2.6 0a1.3 1.3 0 1 0 -2.6 0M356.20 397.5a1.3 1.3 0 1 0 2.6 0a1.3 1.3 0 1 0 -2.6 0M352.20 399.5a1.3 1.3 0 1 0 2.6 0a1.3 1.3 0 1 0 -2.6 0M352.20 401.5a1.3 1.3 0 1 0 2.6 0a1.3 1.3 0 1 0 -2.6 0M355.20 403.8a1.3 1.3 0 1 0 2.6 0a1.3 1.3 0 1 0 -2.6 0M356.50 405.5a1.3 1.3 0 1 0 2.6 0a1.3 1.3 0 1 0 -2.6 0M360.20 407.0a1.3 1.3 0 1 0 2.6 0a1.3 1.3 0 1 0 -2.6 0" fill="#22a8c0" stroke="rgba(30,30,30,0.6)" stroke-width="0.5"/><path d="M391.70 324.6a1.3 1.3 0 1 0 2.6 0a1.3 1.3 0 1 0 -2.6 0M379.10 357.0a1.3 1.3 0 1 0 2.6 0a1.3 1.3 0 1 0 -2.6 0M365.10 297.6a1.3 1.3 0 1 0 2.6 0a1.3 1.3 0 1 0 -2.6 0M346.10 327.4a1.3 1.3 0 1 0 2.6 0a1.3 1.3 0 1 0 -2.6 0M351.20 368.8a1.3 1.3 0 1 0 2.6 0a1.3 1.3 0 1 0 -2.6 0M340.70 385.8a1.3 1.3 0 1 0 2.6 0a1.3 1.3 0 1 0 -2.6 0M337.70 361.8a1.3 1.3 0 1 0 2.6 0a1.3 1.3 0 1 0 -2.6 0M336.20 390.2a1.3 1.3 0 1 0 2.6 0a1.3 1.3 0 1 0 -2.6 0M334.90 395.8a1.3 1.3 0 1 0 2.6 0a1.3 1.3 0 1 0 -2.6 0M339.20 400.5a1.3 1.3 0 1 0 2.6 0a1.3 1.3 0 1 0 -2.6 0M331.50 411.2a1.3 1.3 0 1 0 2.6 0a1.3 1.3 0 1 0 -2.6 0M399.50 361.7a1.3 1.3 0 1 0 2.6 0a1.3 1.3 0 1 0 -2.6 0M395.00 365.6a1.3 1.3 0 1 0 2.6 0a1.3 1.3 0 1 0 -2.6 0" fill="#0606e0" stroke="rgba(30,30,30,0.6)" stroke-width="0.5"/><path d="M372.70 285.0a1.3 1.3 0 1 0 2.6 0a1.3 1.3 0 1 0 -2.6 0M367.70 302.4a1.3 1.3 0 1 0 2.6 0a1.3 1.3 0 1 0 -2.6 0M354.70 336.4a1.3 1.3 0 1 0 2.6 0a1.3 1.3 0 1 0 -2.6 0M363.20 357.8a1.3 1.3 0 1 0 2.6 0a1.3 1.3 0 1 0 -2.6 0M349.20 369.8a1.3 1.3 0 1 0 2.6 0a1.3 1.3 0 1 0 -2.6 0M346.70 371.2a1.3 1.3 0 1 0 2.6 0a1.3 1.3 0 1 0 -2.6 0M346.50 376.0a1.3 1.3 0 1 0 2.6 0a1.3 1.3 0 1 0 -2.6 0M343.20 377.8a1.3 1.3 0 1 0 2.6 0a1.3 1.3 0 1 0 -2.6 0M340.20 372.2a1.3 1.3 0 1 0 2.6 0a1.3 1.3 0 1 0 -2.6 0M369.50 382.2a1.3 1.3 0 1 0 2.6 0a1.3 1.3 0 1 0 -2.6 0M375.70 361.5a1.3 1.3 0 1 0 2.6 0a1.3 1.3 0 1 0 -2.6 0M378.90 370.7a1.3 1.3 0 1 0 2.6 0a1.3 1.3 0 1 0 -2.6 0M349.90 394.0a1.3 1.3 0 1 0 2.6 0a1.3 1.3 0 1 0 -2.6 0M333.50 380.0a1.3 1.3 0 1 0 2.6 0a1.3 1.3 0 1 0 -2.6 0M332.50 381.8a1.3 1.3 0 1 0 2.6 0a1.3 1.3 0 1 0 -2.6 0M319.20 384.0a1.3 1.3 0 1 0 2.6 0a1.3 1.3 0 1 0 -2.6 0M321.20 382.8a1.3 1.3 0 1 0 2.6 0a1.3 1.3 0 1 0 -2.6 0M324.70 383.5a1.3 1.3 0 1 0 2.6 0a1.3 1.3 0 1 0 -2.6 0M331.20 386.2a1.3 1.3 0 1 0 2.6 0a1.3 1.3 0 1 0 -2.6 0M331.50 389.2a1.3 1.3 0 1 0 2.6 0a1.3 1.3 0 1 0 -2.6 0M333.20 389.2a1.3 1.3 0 1 0 2.6 0a1.3 1.3 0 1 0 -2.6 0M335.70 389.0a1.3 1.3 0 1 0 2.6 0a1.3 1.3 0 1 0 -2.6 0M334.50 391.2a1.3 1.3 0 1 0 2.6 0a1.3 1.3 0 1 0 -2.6 0M325.20 391.0a1.3 1.3 0 1 0 2.6 0a1.3 1.3 0 1 0 -2.6 0M323.20 393.2a1.3 1.3 0 1 0 2.6 0a1.3 1.3 0 1 0 -2.6 0M332.20 393.8a1.3 1.3 0 1 0 2.6 0a1.3 1.3 0 1 0 -2.6 0M328.20 397.0a1.3 1.3 0 1 0 2.6 0a1.3 1.3 0 1 0 -2.6 0M313.70 399.5a1.3 1.3 0 1 0 2.6 0a1.3 1.3 0 1 0 -2.6 0M317.20 400.8a1.3 1.3 0 1 0 2.6 0a1.3 1.3 0 1 0 -2.6 0M322.20 403.2a1.3 1.3 0 1 0 2.6 0a1.3 1.3 0 1 0 -2.6 0M318.70 405.5a1.3 1.3 0 1 0 2.6 0a1.3 1.3 0 1 0 -2.6 0M317.70 406.5a1.3 1.3 0 1 0 2.6 0a1.3 1.3 0 1 0 -2.6 0M320.70 405.8a1.3 1.3 0 1 0 2.6 0a1.3 1.3 0 1 0 -2.6 0M328.20 405.5a1.3 1.3 0 1 0 2.6 0a1.3 1.3 0 1 0 -2.6 0M319.70 407.5a1.3 1.3 0 1 0 2.6 0a1.3 1.3 0 1 0 -2.6 0M315.90 409.0a1.3 1.3 0 1 0 2.6 0a1.3 1.3 0 1 0 -2.6 0M318.70 409.2a1.3 1.3 0 1 0 2.6 0a1.3 1.3 0 1 0 -2.6 0M313.50 410.5a1.3 1.3 0 1 0 2.6 0a1.3 1.3 0 1 0 -2.6 0M318.20 416.0a1.3 1.3 0 1 0 2.6 0a1.3 1.3 0 1 0 -2.6 0M319.20 416.2a1.3 1.3 0 1 0 2.6 0a1.3 1.3 0 1 0 -2.6 0M316.90 419.0a1.3 1.3 0 1 0 2.6 0a1.3 1.3 0 1 0 -2.6 0M317.70 421.5a1.3 1.3 0 1 0 2.6 0a1.3 1.3 0 1 0 -2.6 0M319.20 422.5a1.3 1.3 0 1 0 2.6 0a1.3 1.3 0 1 0 -2.6 0M313.90 424.7a1.3 1.3 0 1 0 2.6 0a1.3 1.3 0 1 0 -2.6 0M317.70 429.5a1.3 1.3 0 1 0 2.6 0a1.3 1.3 0 1 0 -2.6 0M313.90 438.0a1.3 1.3 0 1 0 2.6 0a1.3 1.3 0 1 0 -2.6 0M320.20 404.5a1.3 1.3 0 1 0 2.6 0a1.3 1.3 0 1 0 -2.6 0M317.20 407.8a1.3 1.3 0 1 0 2.6 0a1.3 1.3 0 1 0 -2.6 0M334.20 388.0a1.3 1.3 0 1 0 2.6 0a1.3 1.3 0 1 0 -2.6 0M331.90 390.5a1.3 1.3 0 1 0 2.6 0a1.3 1.3 0 1 0 -2.6 0M318.50 420.2a1.3 1.3 0 1 0 2.6 0a1.3 1.3 0 1 0 -2.6 0M321.90 405.0a1.3 1.3 0 1 0 2.6 0a1.3 1.3 0 1 0 -2.6 0M329.70 388.0a1.3 1.3 0 1 0 2.6 0a1.3 1.3 0 1 0 -2.6 0M315.20 408.2a1.3 1.3 0 1 0 2.6 0a1.3 1.3 0 1 0 -2.6 0M318.90 417.5a1.3 1.3 0 1 0 2.6 0a1.3 1.3 0 1 0 -2.6 0M334.70 390.5a1.3 1.3 0 1 0 2.6 0a1.3 1.3 0 1 0 -2.6 0M321.20 407.0a1.3 1.3 0 1 0 2.6 0a1.3 1.3 0 1 0 -2.6 0" fill="#80a668" stroke="rgba(30,30,30,0.6)" stroke-width="0.5"/><path d="M395.70 324.0a1.3 1.3 0 1 0 2.6 0a1.3 1.3 0 1 0 -2.6 0M427.30 330.0a1.3 1.3 0 1 0 2.6 0a1.3 1.3 0 1 0 -2.6 0M430.70 339.0a1.3 1.3 0 1 0 2.6 0a1.3 1.3 0 1 0 -2.6 0M408.70 341.6a1.3 1.3 0 1 0 2.6 0a1.3 1.3 0 1 0 -2.6 0M437.70 341.4a1.3 1.3 0 1 0 2.6 0a1.3 1.3 0 1 0 -2.6 0M390.10 357.6a1.3 1.3 0 1 0 2.6 0a1.3 1.3 0 1 0 -2.6 0M414.10 357.0a1.3 1.3 0 1 0 2.6 0a1.3 1.3 0 1 0 -2.6 0M361.70 346.6a1.3 1.3 0 1 0 2.6 0a1.3 1.3 0 1 0 -2.6 0M365.30 344.4a1.3 1.3 0 1 0 2.6 0a1.3 1.3 0 1 0 -2.6 0M356.70 356.0a1.3 1.3 0 1 0 2.6 0a1.3 1.3 0 1 0 -2.6 0M365.30 359.0a1.3 1.3 0 1 0 2.6 0a1.3 1.3 0 1 0 -2.6 0M355.50 364.0a1.3 1.3 0 1 0 2.6 0a1.3 1.3 0 1 0 -2.6 0M345.70 369.2a1.3 1.3 0 1 0 2.6 0a1.3 1.3 0 1 0 -2.6 0M345.50 373.2a1.3 1.3 0 1 0 2.6 0a1.3 1.3 0 1 0 -2.6 0M366.20 368.0a1.3 1.3 0 1 0 2.6 0a1.3 1.3 0 1 0 -2.6 0M364.90 380.8a1.3 1.3 0 1 0 2.6 0a1.3 1.3 0 1 0 -2.6 0M371.70 365.5a1.3 1.3 0 1 0 2.6 0a1.3 1.3 0 1 0 -2.6 0M374.50 369.7a1.3 1.3 0 1 0 2.6 0a1.3 1.3 0 1 0 -2.6 0M348.40 382.8a1.3 1.3 0 1 0 2.6 0a1.3 1.3 0 1 0 -2.6 0M340.50 391.8a1.3 1.3 0 1 0 2.6 0a1.3 1.3 0 1 0 -2.6 0M348.40 395.8a1.3 1.3 0 1 0 2.6 0a1.3 1.3 0 1 0 -2.6 0M342.50 398.2a1.3 1.3 0 1 0 2.6 0a1.3 1.3 0 1 0 -2.6 0M335.90 380.5a1.3 1.3 0 1 0 2.6 0a1.3 1.3 0 1 0 -2.6 0M337.70 380.5a1.3 1.3 0 1 0 2.6 0a1.3 1.3 0 1 0 -2.6 0M327.70 384.5a1.3 1.3 0 1 0 2.6 0a1.3 1.3 0 1 0 -2.6 0M330.90 393.0a1.3 1.3 0 1 0 2.6 0a1.3 1.3 0 1 0 -2.6 0M330.50 397.8a1.3 1.3 0 1 0 2.6 0a1.3 1.3 0 1 0 -2.6 0M326.20 400.5a1.3 1.3 0 1 0 2.6 0a1.3 1.3 0 1 0 -2.6 0M342.70 401.8a1.3 1.3 0 1 0 2.6 0a1.3 1.3 0 1 0 -2.6 0M332.50 402.0a1.3 1.3 0 1 0 2.6 0a1.3 1.3 0 1 0 -2.6 0M320.20 403.8a1.3 1.3 0 1 0 2.6 0a1.3 1.3 0 1 0 -2.6 0M324.90 403.0a1.3 1.3 0 1 0 2.6 0a1.3 1.3 0 1 0 -2.6 0M331.50 404.8a1.3 1.3 0 1 0 2.6 0a1.3 1.3 0 1 0 -2.6 0M332.20 406.8a1.3 1.3 0 1 0 2.6 0a1.3 1.3 0 1 0 -2.6 0M324.20 406.5a1.3 1.3 0 1 0 2.6 0a1.3 1.3 0 1 0 -2.6 0M323.70 408.5a1.3 1.3 0 1 0 2.6 0a1.3 1.3 0 1 0 -2.6 0M324.70 408.5a1.3 1.3 0 1 0 2.6 0a1.3 1.3 0 1 0 -2.6 0M331.70 408.2a1.3 1.3 0 1 0 2.6 0a1.3 1.3 0 1 0 -2.6 0M337.00 414.0a1.3 1.3 0 1 0 2.6 0a1.3 1.3 0 1 0 -2.6 0M323.40 413.8a1.3 1.3 0 1 0 2.6 0a1.3 1.3 0 1 0 -2.6 0M322.70 416.5a1.3 1.3 0 1 0 2.6 0a1.3 1.3 0 1 0 -2.6 0M324.70 415.8a1.3 1.3 0 1 0 2.6 0a1.3 1.3 0 1 0 -2.6 0M323.20 419.0a1.3 1.3 0 1 0 2.6 0a1.3 1.3 0 1 0 -2.6 0M327.70 418.5a1.3 1.3 0 1 0 2.6 0a1.3 1.3 0 1 0 -2.6 0M321.50 424.0a1.3 1.3 0 1 0 2.6 0a1.3 1.3 0 1 0 -2.6 0M404.90 368.5a1.3 1.3 0 1 0 2.6 0a1.3 1.3 0 1 0 -2.6 0M448.80 365.8a1.3 1.3 0 1 0 2.6 0a1.3 1.3 0 1 0 -2.6 0M398.10 383.6a1.3 1.3 0 1 0 2.6 0a1.3 1.3 0 1 0 -2.6 0M324.20 407.5a1.3 1.3 0 1 0 2.6 0a1.3 1.3 0 1 0 -2.6 0" fill="#ec0606" stroke="rgba(30,30,30,0.6)" stroke-width="0.5"/></g>
<line x1="280.50" y1="443.20" x2="474.50" y2="282.01" stroke="#262626" stroke-width="0.95"/>
<rect x="280.5" y="248.5" width="194.0" height="198.0" fill="none" stroke="#8e8e8e" stroke-width="1.0"/>
<path d="M287.50 446.5v1.8M327.50 446.5v1.8M366.50 446.5v1.8M406.50 446.5v1.8M446.50 446.5v1.8M280.5 439.50h-1.8M280.5 398.50h-1.8M280.5 357.50h-1.8M280.5 316.50h-1.8M280.5 276.50h-1.8" stroke="#444" stroke-width="0.8" fill="none"/>
<text x="287.40" y="456.30" font-size="10.0" class="th" text-anchor="middle">0</text>
<text x="327.15" y="456.30" font-size="10.0" class="th" text-anchor="middle">2</text>
<text x="366.90" y="456.30" font-size="10.0" class="th" text-anchor="middle">4</text>
<text x="406.65" y="456.30" font-size="10.0" class="th" text-anchor="middle">6</text>
<text x="446.40" y="456.30" font-size="10.0" class="th" text-anchor="middle">8</text>
<text x="277.10" y="442.90" font-size="10.0" class="th" text-anchor="end">0</text>
<text x="277.10" y="402.12" font-size="10.0" class="th" text-anchor="end">2</text>
<text x="277.10" y="361.35" font-size="10.0" class="th" text-anchor="end">4</text>
<text x="277.10" y="320.58" font-size="10.0" class="th" text-anchor="end">6</text>
<text x="277.10" y="279.80" font-size="10.0" class="th" text-anchor="end">8</text>
<text x="315.6" y="244.00" font-size="10.2" textLength="123.3" lengthAdjust="spacingAndGlyphs">(d) Spring (171 columns)</text>
<rect x="47.7" y="21.7" width="153.7" height="17.2" rx="1.8" fill="#ffffff" fill-opacity="0.8" stroke="#e0e0e0" stroke-width="0.8"/>
<line x1="49.9" y1="29.9" x2="66.9" y2="29.9" stroke="#808080" stroke-width="1.9"/>
<text x="73.0" y="32.8" font-size="8.6" class="th" textLength="113.4" lengthAdjust="spacingAndGlyphs">(-0.12±0.17)+(1.00±0.06)Ω</text><text x="187.00" y="29.20" class="th" font-size="6.02">bc</text><text x="187.00" y="34.80" class="th" font-size="6.02" textLength="11.6" lengthAdjust="spacingAndGlyphs">W,T</text>
<rect x="284.6" y="21.6" width="150.6" height="17.4" rx="1.8" fill="#ffffff" fill-opacity="0.8" stroke="#e0e0e0" stroke-width="0.8"/>
<line x1="287.2" y1="29.9" x2="304.3" y2="29.9" stroke="#808080" stroke-width="1.9"/>
<text x="311.0" y="32.8" font-size="8.6" class="th" textLength="109.2" lengthAdjust="spacingAndGlyphs">(1.22±0.18)+(0.88±0.05)Ω</text><text x="420.80" y="29.20" class="th" font-size="6.02">bc</text><text x="420.80" y="34.80" class="th" font-size="6.02" textLength="11.6" lengthAdjust="spacingAndGlyphs">W,T</text>
<rect x="47.4" y="252.4" width="150.9" height="32.6" rx="1.8" fill="#ffffff" fill-opacity="0.8" stroke="#e0e0e0" stroke-width="0.8"/>
<line x1="50.0" y1="260.4" x2="66.8" y2="260.4" stroke="#333" stroke-width="1.0"/>
<text x="73.4" y="263.3" font-size="8.6" class="th" textLength="109.9" lengthAdjust="spacingAndGlyphs">(2.61±0.54)+(0.40±0.18)Ω</text><text x="183.90" y="259.70" class="th" font-size="6.02">bc</text><text x="183.90" y="265.30" class="th" font-size="6.02" textLength="11.6" lengthAdjust="spacingAndGlyphs">W,T</text>
<line x1="50.0" y1="276.0" x2="66.8" y2="276.0" stroke="#6a4a28" stroke-width="1.25" stroke-dasharray="1.3 1.9"/>
<text x="73.4" y="278.9" font-size="8.6" class="th" textLength="109.9" lengthAdjust="spacingAndGlyphs">(0.00±0.75)+(0.85±0.25)Ω</text><text x="183.90" y="275.30" class="th" font-size="6.02">bc</text><text x="183.90" y="280.90" class="th" font-size="6.02" textLength="11.6" lengthAdjust="spacingAndGlyphs">W,T</text>
<rect x="284.2" y="252.5" width="152.0" height="17.0" rx="1.8" fill="#ffffff" fill-opacity="0.8" stroke="#e0e0e0" stroke-width="0.8"/>
<line x1="287.3" y1="260.3" x2="304.0" y2="260.3" stroke="#333" stroke-width="1.0"/>
<text x="310.8" y="263.4" font-size="8.6" class="th" textLength="110.4" lengthAdjust="spacingAndGlyphs">(0.09±0.15)+(0.81±0.05)Ω</text><text x="421.80" y="259.80" class="th" font-size="6.02">bc</text><text x="421.80" y="265.40" class="th" font-size="6.02" textLength="11.6" lengthAdjust="spacingAndGlyphs">W,T</text>
<text x="91.8" y="476.8" font-size="10.2" textLength="174.6" lengthAdjust="spacingAndGlyphs">Bias-corrected WRF-Chem columns</text>
<text x="268.9" y="476.8" font-size="10.2" textLength="7.4" lengthAdjust="spacingAndGlyphs">Ω</text>
<text x="277.5" y="472.8" font-size="7.3" textLength="7.4" lengthAdjust="spacingAndGlyphs">bc</text>
<text x="277.4" y="479.0" font-size="7.3" textLength="14.0" lengthAdjust="spacingAndGlyphs">W,T</text>
<text x="295.7" y="476.8" font-size="10.2" textLength="17.3" lengthAdjust="spacingAndGlyphs">(10</text>
<text x="313.5" y="472.6" font-size="7.1" textLength="6.7" lengthAdjust="spacingAndGlyphs">15</text>
<text x="325.0" y="476.8" font-size="10.2" textLength="50.5" lengthAdjust="spacingAndGlyphs">molec. cm</text>
<text x="376.0" y="472.6" font-size="7.1" textLength="8.8" lengthAdjust="spacingAndGlyphs">−2</text>
<text x="385.4" y="476.8" font-size="10.2" textLength="3.7" lengthAdjust="spacingAndGlyphs">)</text>
<g transform="translate(14.3,335.7) rotate(-90)"><text x="0.00" y="0" font-size="10.2" textLength="92.6" lengthAdjust="spacingAndGlyphs">TROPOMI columns</text><text x="96.10" y="0" font-size="10.2" textLength="7.3" lengthAdjust="spacingAndGlyphs">Ω</text><text x="105.20" y="2.3" font-size="7.1" textLength="3.8" lengthAdjust="spacingAndGlyphs">T</text><text x="112.60" y="0" font-size="10.2" textLength="16.0" lengthAdjust="spacingAndGlyphs">(10</text><text x="129.60" y="-4.3" font-size="7.1" textLength="8.7" lengthAdjust="spacingAndGlyphs">15</text><text x="141.80" y="0" font-size="10.2" textLength="52.2" lengthAdjust="spacingAndGlyphs">molec. cm</text><text x="194.60" y="-4.3" font-size="7.1" textLength="9.4" lengthAdjust="spacingAndGlyphs">−2</text><text x="205.00" y="0" font-size="10.2" textLength="3.8" lengthAdjust="spacingAndGlyphs">)</text></g>
<rect x="16.8" y="495.6" width="477.6" height="59.8" rx="2" fill="#fff" stroke="#dcdcdc" stroke-width="0.8"/>
<circle cx="29.5" cy="504.50" r="1.3" fill="#0b5c5c" stroke="rgba(30,30,30,0.6)" stroke-width="0.5"/>
<text x="46.8" y="507.80" font-size="10.3" class="t2" textLength="76.3" lengthAdjust="spacingAndGlyphs">01/07/2021 (40)</text>
<circle cx="29.5" cy="518.70" r="1.3" fill="#a06850" stroke="rgba(30,30,30,0.6)" stroke-width="0.5"/>
<text x="46.8" y="521.93" font-size="10.3" class="t2" textLength="76.3" lengthAdjust="spacingAndGlyphs">05/07/2021 (19)</text>
<circle cx="29.5" cy="532.90" r="1.3" fill="#a79ff2" stroke="rgba(30,30,30,0.6)" stroke-width="0.5"/>
<text x="46.8" y="536.06" font-size="10.3" class="t2" textLength="69.5" lengthAdjust="spacingAndGlyphs">10/07/2021 (9)</text>
<circle cx="29.5" cy="547.10" r="1.3" fill="#72dd08" stroke="rgba(30,30,30,0.6)" stroke-width="0.5"/>
<text x="46.8" y="550.19" font-size="10.3" class="t2" textLength="76.3" lengthAdjust="spacingAndGlyphs">29/10/2021 (15)</text>
<circle cx="152.1" cy="504.50" r="1.3" fill="#2ad6c2" stroke="rgba(30,30,30,0.6)" stroke-width="0.5"/>
<text x="169.0" y="507.80" font-size="10.3" class="t2" textLength="76.3" lengthAdjust="spacingAndGlyphs">04/11/2021 (11)</text>
<circle cx="152.1" cy="518.70" r="1.3" fill="#df6fd6" stroke="rgba(30,30,30,0.6)" stroke-width="0.5"/>
<text x="169.0" y="521.93" font-size="10.3" class="t2" textLength="76.3" lengthAdjust="spacingAndGlyphs">05/11/2021 (18)</text>
<circle cx="152.1" cy="532.90" r="1.3" fill="#046c04" stroke="rgba(30,30,30,0.6)" stroke-width="0.5"/>
<text x="169.0" y="536.06" font-size="10.3" class="t2" textLength="76.3" lengthAdjust="spacingAndGlyphs">11/11/2021 (51)</text>
<circle cx="152.1" cy="547.10" r="1.3" fill="#ec8c12" stroke="rgba(30,30,30,0.6)" stroke-width="0.5"/>
<text x="169.0" y="550.19" font-size="10.3" class="t2" textLength="76.3" lengthAdjust="spacingAndGlyphs">23/12/2021 (32)</text>
<circle cx="274.4" cy="504.50" r="1.3" fill="#523814" stroke="rgba(30,30,30,0.6)" stroke-width="0.5"/>
<text x="291.5" y="507.80" font-size="10.3" class="t2" textLength="76.3" lengthAdjust="spacingAndGlyphs">05/01/2022 (30)</text>
<circle cx="274.4" cy="518.70" r="1.3" fill="#22a8c0" stroke="rgba(30,30,30,0.6)" stroke-width="0.5"/>
<text x="291.5" y="521.93" font-size="10.3" class="t2" textLength="76.3" lengthAdjust="spacingAndGlyphs">24/03/2022 (52)</text>
<circle cx="274.4" cy="532.90" r="1.3" fill="#0606e0" stroke="rgba(30,30,30,0.6)" stroke-width="0.5"/>
<text x="291.5" y="536.06" font-size="10.3" class="t2" textLength="76.3" lengthAdjust="spacingAndGlyphs">28/03/2022 (13)</text>
<circle cx="274.4" cy="547.10" r="1.3" fill="#80a668" stroke="rgba(30,30,30,0.6)" stroke-width="0.5"/>
<text x="291.5" y="550.19" font-size="10.3" class="t2" textLength="76.3" lengthAdjust="spacingAndGlyphs">05/04/2022 (57)</text>
<circle cx="397.2" cy="504.50" r="1.3" fill="#ec0606" stroke="rgba(30,30,30,0.6)" stroke-width="0.5"/>
<text x="414.0" y="507.80" font-size="10.3" class="t2" textLength="76.3" lengthAdjust="spacingAndGlyphs">15/04/2022 (49)</text>
<circle cx="397.2" cy="518.70" r="1.3" fill="#5e0840" stroke="rgba(30,30,30,0.6)" stroke-width="0.5"/>
<text x="414.0" y="521.93" font-size="10.3" class="t2" textLength="76.3" lengthAdjust="spacingAndGlyphs">30/06/2022 (20)</text>
<circle cx="397.2" cy="532.90" r="1.3" fill="#b004ae" stroke="rgba(30,30,30,0.6)" stroke-width="0.5"/>
<text x="414.0" y="536.06" font-size="10.3" class="t2" textLength="76.3" lengthAdjust="spacingAndGlyphs">30/09/2022 (21)</text>
<circle cx="397.2" cy="547.10" r="1.3" fill="#7232dc" stroke="rgba(30,30,30,0.6)" stroke-width="0.5"/>
<text x="414.0" y="550.19" font-size="10.3" class="t2" textLength="76.3" lengthAdjust="spacingAndGlyphs">02/11/2022 (15)</text>
</svg></body></html>
